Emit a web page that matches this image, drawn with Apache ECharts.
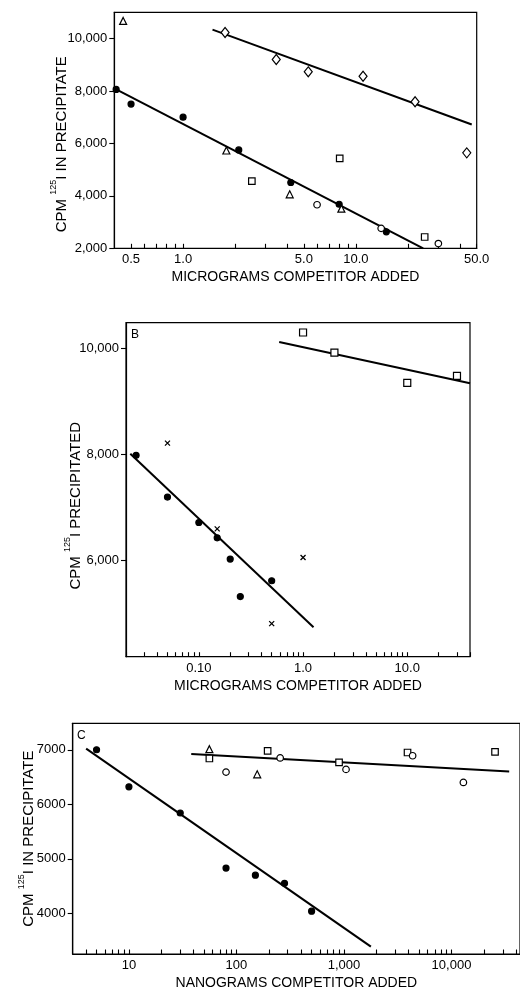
<!DOCTYPE html>
<html><head><meta charset="utf-8">
<script src="https://cdn.jsdelivr.net/npm/echarts@6/dist/echarts.min.js"></script>
<style>html,body{margin:0;padding:0;background:#fff}#c{width:520px;height:991px}</style>
</head><body><div id="c"></div>
<script>
// ---------- Panel A ----------
const aXTickValues = [0.5, 1, 5, 10, 50];
const aXTickLabels = ['0.5', '1.0', '5.0', '10.0', '50.0'];
const aXMinorTicks = [0.5, 0.6, 0.7, 0.8, 0.9, 1, 2, 3, 4, 5, 6, 7, 8, 9, 10, 20, 30, 40, 50];
const aYTicks = [2000, 4000, 6000, 8000, 10000];
const aDiamondX = [1.75, 3.46, 5.3, 11.0, 22.0, 43.8];
const aDiamondY = [10230, 9200, 8730, 8560, 7590, 5640];
const aDotX = [0.41, 0.5, 1.0, 2.1, 4.2, 8.0, 15.0];
const aDotY = [8060, 7500, 7000, 5750, 4510, 3680, 2630];
const aTriangleX = [0.45, 1.78, 4.14, 8.24];
const aTriangleY = [10670, 5730, 4060, 3510];
const aSquareX = [2.5, 8.06, 25];
const aSquareY = [4560, 5430, 2430];
const aCircleX = [5.96, 14.0, 30];
const aCircleY = [3660, 2760, 2180];
const aUpperLineX = [1.48, 46.8];
const aUpperLineY = [10340, 6720];
const aLowerLineX = [0.4, 24.5];
const aLowerLineY = [8100, 2000];

// ---------- Panel B ----------
const bXTickValues = [0.1, 1, 10];
const bXTickLabels = ['0.10', '1.0', '10.0'];
const bXMinorTicks = [0.02, 0.03, 0.04, 0.05, 0.06, 0.07, 0.08, 0.09, 0.1, 0.2, 0.3, 0.4, 0.5, 0.6, 0.7, 0.8, 0.9, 1, 2, 3, 4, 5, 6, 7, 8, 9, 10, 20, 30, 40];
const bYTicks = [6000, 8000, 10000];
const bSquareX = [1.0, 2.0, 10.0, 30];
const bSquareY = [10300, 9920, 9350, 9480];
const bDotX = [0.025, 0.05, 0.1, 0.15, 0.2, 0.25, 0.5];
const bDotY = [7980, 7190, 6710, 6420, 6020, 5310, 5610];
const bCrossX = [0.05, 0.15, 1.0, 0.5];
const bCrossY = [8210, 6590, 6050, 4800];
const bUpperLineX = [0.59, 40];
const bUpperLineY = [10120, 9340];
const bLowerLineX = [0.022, 1.26];
const bLowerLineY = [8010, 4730];

// ---------- Panel C ----------
const cXTickValues = [10, 100, 1000, 10000];
const cXTickLabels = ['10', '100', '1,000', '10,000'];
const cXMinorTicks = [4, 5, 6, 7, 8, 9, 10, 20, 30, 40, 50, 60, 70, 80, 90, 100, 200, 300, 400, 500, 600, 700, 800, 900, 1000, 2000, 3000, 4000, 5000, 6000, 7000, 8000, 9000, 10000, 20000, 30000, 40000];
const cYTicks = [4000, 5000, 6000, 7000];
const cDotX = [5, 10, 30, 80, 150, 280, 500];
const cDotY = [7000, 6320, 5840, 4830, 4700, 4550, 4040];
const cTriangleX = [56, 156];
const cTriangleY = [7010, 6550];
const cSquareX = [56, 195, 900, 3900, 25400];
const cSquareY = [6840, 6980, 6770, 6950, 6960];
const cCircleX = [80, 255, 1045, 4350, 12900];
const cCircleY = [6590, 6850, 6640, 6890, 6400];
const cUpperLineX = [38, 34400];
const cUpperLineY = [6920, 6600];
const cLowerLineX = [4, 1780];
const cLowerLineY = [7020, 3390];

const FONT = 'Liberation Sans';
const L = v => Math.log10(v);
const comma = v => String(Math.round(v)).replace(/\B(?=(\d{3})+(?!\d))/g, ',');
const pts = (xs, ys) => xs.map((x, i) => [L(x), ys[i]]);

function xAxisDef(gi, min, max, tickVals, tickLabels, minor, name, gap) {
  return {
    type: 'value', gridIndex: gi, min: L(min), max: L(max),
    axisLine: {show: true, onZero: false, lineStyle: {color: '#000', width: 1.2}},
    axisTick: {show: true, inside: true, length: 4.5, customValues: minor.map(L), lineStyle: {color: '#000', width: 1.1}},
    axisLabel: {
      customValues: tickVals.map(L), margin: 5, color: '#000', fontFamily: FONT, fontSize: 13,
      formatter: v => { const i = tickVals.findIndex(t => Math.abs(L(t) - v) < 1e-6); return i >= 0 ? tickLabels[i] : ''; }
    },
    splitLine: {show: false},
    name: name, nameLocation: 'middle', nameGap: gap, nameMoveOverlap: false,
    nameTextStyle: {color: '#000', fontFamily: FONT, fontSize: 14}
  };
}
function yAxisDef(gi, min, max, ticks, fmt, name, gap, shift) {
  return {
    type: 'value', gridIndex: gi, min: min, max: max,
    axisLine: {show: true, onZero: false, lineStyle: {color: '#000', width: 1.2}},
    axisTick: {show: true, inside: false, length: 5, customValues: ticks, lineStyle: {color: '#000', width: 1.1}},
    axisLabel: {customValues: ticks, formatter: fmt, margin: 7, color: '#000', fontFamily: FONT, fontSize: 13},
    splitLine: {show: false},
    name: name, nameLocation: 'middle', nameGap: gap, nameRotate: 90, nameMoveOverlap: false,
    nameTextStyle: {
      color: '#000', fontFamily: FONT, fontSize: 15, padding: [0, shift, 0, 0],
      rich: {
        t: {color: '#000', fontFamily: FONT, fontSize: 15, lineHeight: 20, verticalAlign: 'bottom'},
        s: {color: '#000', fontFamily: FONT, fontSize: 9, lineHeight: 10, verticalAlign: 'top'}
      }
    }
  };
}
function sc(gi, xs, ys, symbol, size, filled, bw) {
  return {
    type: 'scatter', xAxisIndex: gi, yAxisIndex: gi, data: pts(xs, ys),
    symbol: symbol, symbolSize: size, z: 5,
    itemStyle: {color: filled ? '#000' : '#fff', borderColor: '#000', borderWidth: bw == null ? 1.2 : bw, opacity: 1}
  };
}
function ln(gi, xs, ys) {
  return {
    type: 'line', xAxisIndex: gi, yAxisIndex: gi, data: pts(xs, ys),
    symbol: 'none', z: 3, lineStyle: {color: '#000', width: 2}
  };
}

const chart = echarts.init(document.getElementById('c'), null, {renderer: 'canvas'});
chart.setOption({
  animation: false,
  backgroundColor: '#fff',
  grid: [
    {left: 114.3, top: 12.3, width: 362.4, height: 236, show: true, borderColor: '#000', borderWidth: 1.2, containLabel: false},
    {left: 126, top: 322.7, width: 344, height: 334, show: true, borderColor: '#000', borderWidth: 1.2, containLabel: false},
    {left: 72.7, top: 723.3, width: 449.3, height: 232.7, show: true, borderColor: '#000', borderWidth: 1.2, containLabel: false}
  ],
  xAxis: [
    xAxisDef(0, 0.4, 50, aXTickValues, aXTickLabels, aXMinorTicks, 'MICROGRAMS COMPETITOR ADDED', 22),
    xAxisDef(1, 0.02, 40, bXTickValues, bXTickLabels, bXMinorTicks, 'MICROGRAMS COMPETITOR ADDED', 22),
    xAxisDef(2, 3, 43360, cXTickValues, cXTickLabels, cXMinorTicks, 'NANOGRAMS COMPETITOR ADDED', 22)
  ],
  yAxis: [
    yAxisDef(0, 2000, 11000, aYTicks, comma, '{t|CPM }{s|125}{t|I IN PRECIPITATE}', 45, 28),
    yAxisDef(1, 4175, 10485, bYTicks, comma, '{t|CPM }{s|125}{t|I PRECIPITATED}', 43, 32),
    yAxisDef(2, 3255, 7485, cYTicks, v => String(v), '{t|CPM }{s|125}{t|I IN PRECIPITATE}', 36, 0)
  ],
  graphic: [
    {type: 'text', left: 131, top: 329, style: {text: 'B', fontFamily: FONT, fontSize: 12, fill: '#000'}},
    {type: 'text', left: 77, top: 730, style: {text: 'C', fontFamily: FONT, fontSize: 12, fill: '#000'}}
  ],
  series: [
    ln(0, aUpperLineX, aUpperLineY),
    ln(0, aLowerLineX, aLowerLineY),
    sc(0, aDiamondX, aDiamondY, 'diamond', [8, 10], false),
    sc(0, aDotX, aDotY, 'circle', 6, true),
    sc(0, aTriangleX, aTriangleY, 'triangle', 7, false),
    sc(0, aSquareX, aSquareY, 'rect', 6.5, false),
    sc(0, aCircleX, aCircleY, 'circle', 6.5, false),

    ln(1, bUpperLineX, bUpperLineY),
    ln(1, bLowerLineX, bLowerLineY),
    sc(1, bSquareX, bSquareY, 'rect', 7, false),
    sc(1, bDotX, bDotY, 'circle', 6, true),
    sc(1, bCrossX, bCrossY, 'path://M0,0L10,10M10,0L0,10', 5, true, 1.3),

    ln(2, cUpperLineX, cUpperLineY),
    ln(2, cLowerLineX, cLowerLineY),
    sc(2, cDotX, cDotY, 'circle', 6, true),
    sc(2, cTriangleX, cTriangleY, 'triangle', 7, false),
    sc(2, cSquareX, cSquareY, 'rect', 6.5, false),
    sc(2, cCircleX, cCircleY, 'circle', 6.5, false)
  ]
});
</script></body></html>
